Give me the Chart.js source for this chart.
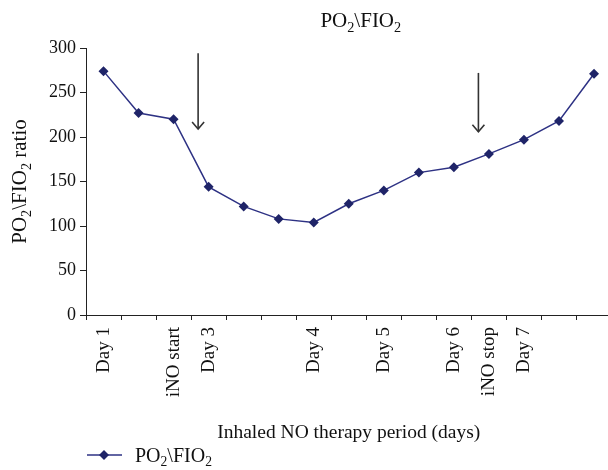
<!DOCTYPE html>
<html><head><meta charset="utf-8">
<script src="https://cdn.jsdelivr.net/npm/chart.js@4/dist/chart.umd.min.js"></script>
<style>
html,body{margin:0;padding:0;background:#fff;overflow:hidden;}
#wrap{width:608px;height:470px;overflow:hidden;position:relative;}
#box{width:624px;height:470px;position:absolute;left:0;top:0;}
</style></head>
<body>
<div id="wrap"><div id="box"><canvas id="c"></canvas></div></div>
<script>
const categories = ["Day 1", "", "iNO start", "Day 3", "", "", "Day 4", "", "Day 5", "", "Day 6", "iNO stop", "Day 7", "", ""];
const ratioValues = [274, 227, 220, 144, 122, 108, 104, 125, 140, 160, 166, 181, 197, 218, 271];
const yTicks = [0, 50, 100, 150, 200, 250, 300];
// arrows: [category position, top value, bottom value]
const arrowMarks = [[2.7, 294, 209], [10.7, 272, 206]];
const seriesName = "PO\u2082\\FIO\u2082";
const xTitle = "Inhaled NO therapy period (days)";
// rich text segments: [text, isSubscript]
const seriesRich = [["PO", false], ["2", true], ["\\FIO", false], ["2", true]];
const yTitleRich = [["PO", false], ["2", true], ["\\FIO", false], ["2", true], [" ratio", false]];

const FONT = "'Liberation Serif', 'Times New Roman', serif";
const TEXT = '#111';
const LINE = '#2e3284';
const MARK = '#1f2468';

function richWidth(ctx, segs, size) {
  let w = 0;
  segs.forEach(s => { ctx.font = (s[1] ? size * 0.68 : size) + 'px ' + FONT; w += ctx.measureText(s[0]).width; });
  return w;
}
function drawRich(ctx, segs, x, y, size) {
  ctx.textAlign = 'left'; ctx.textBaseline = 'alphabetic';
  segs.forEach(s => {
    const sz = s[1] ? size * 0.68 : size;
    ctx.font = sz + 'px ' + FONT;
    ctx.fillText(s[0], x, s[1] ? y + size * 0.22 : y);
    x += ctx.measureText(s[0]).width;
  });
}

const decorPlugin = {
  id: 'decor',
  afterDraw(chart) {
    const ctx = chart.ctx, a = chart.chartArea;
    ctx.save();
    ctx.fillStyle = TEXT;
    const tSize = 21;
    const tw = richWidth(ctx, seriesRich, tSize);
    drawRich(ctx, seriesRich, (a.left + a.right) / 2 + 12 - tw / 2, 27, tSize);
    const ySize = 21;
    const yw = richWidth(ctx, yTitleRich, ySize);
    ctx.save();
    ctx.translate(26, (a.top + a.bottom) / 2);
    ctx.rotate(-Math.PI / 2);
    drawRich(ctx, yTitleRich, -yw / 2, 0, ySize);
    ctx.restore();
    const ly = 455;
    ctx.strokeStyle = LINE; ctx.lineWidth = 1.5;
    ctx.beginPath(); ctx.moveTo(a.left + 1, ly); ctx.lineTo(a.left + 36, ly); ctx.stroke();
    ctx.fillStyle = MARK;
    const cx = a.left + 18;
    ctx.beginPath(); ctx.moveTo(cx, ly - 5); ctx.lineTo(cx + 5, ly); ctx.lineTo(cx, ly + 5); ctx.lineTo(cx - 5, ly); ctx.closePath(); ctx.fill();
    ctx.fillStyle = TEXT;
    drawRich(ctx, seriesRich, a.left + 49, ly + 7, 20);
    ctx.restore();
  },
  afterDatasetsDraw(chart) {
    const ctx = chart.ctx, x = chart.scales.x, y = chart.scales.y;
    ctx.save();
    ctx.strokeStyle = '#333'; ctx.lineWidth = 1.6;
    arrowMarks.forEach(m => {
      const px = x.getPixelForValue(m[0]);
      const y1 = y.getPixelForValue(m[1]), y2 = y.getPixelForValue(m[2]);
      ctx.beginPath(); ctx.moveTo(px, y1); ctx.lineTo(px, y2); ctx.stroke();
      ctx.beginPath(); ctx.moveTo(px - 6, y2 - 7); ctx.lineTo(px, y2); ctx.lineTo(px + 6, y2 - 7); ctx.stroke();
    });
    ctx.restore();
  }
};

new Chart(document.getElementById('c'), {
  type: 'line',
  data: {
    labels: categories,
    datasets: [{
      label: seriesName,
      data: ratioValues,
      borderColor: LINE,
      backgroundColor: MARK,
      borderWidth: 1.5,
      pointStyle: 'rectRot',
      pointRadius: 5,
      pointBorderWidth: 0,
      pointBackgroundColor: MARK,
      tension: 0
    }]
  },
  options: {
    responsive: true,
    maintainAspectRatio: false,
    animation: false,
    devicePixelRatio: 1,
    layout: { padding: { left: 0, top: 48, right: 0, bottom: 25 } },
    plugins: {
      title: { display: false },
      legend: { display: false },
      tooltip: { enabled: false }
    },
    scales: {
      x: {
        type: 'category',
        offset: true,
        grid: { display: true, offset: true, drawOnChartArea: false, tickLength: 5, color: '#222' },
        border: { display: true, color: '#222', width: 1 },
        ticks: { color: TEXT, font: { family: FONT, size: 19 }, minRotation: 90, maxRotation: 90, autoSkip: false, padding: 7 },
        title: { display: true, text: xTitle, color: TEXT, font: { family: FONT, size: 19.5 }, padding: { top: 0, bottom: 0 } },
        afterFit: (s) => { s.height = 130; }
      },
      y: {
        min: 0, max: 300,
        afterBuildTicks: (s) => { s.ticks = yTicks.map(v => ({ value: v })); },
        grid: { display: true, drawOnChartArea: false, tickLength: 6, color: '#222' },
        border: { display: true, color: '#222', width: 1 },
        ticks: { color: TEXT, font: { family: FONT, size: 18 }, padding: 4 },
        title: { display: false },
        afterFit: (s) => { s.width = 86; }
      }
    }
  },
  plugins: [decorPlugin]
});
</script>
</body></html>
